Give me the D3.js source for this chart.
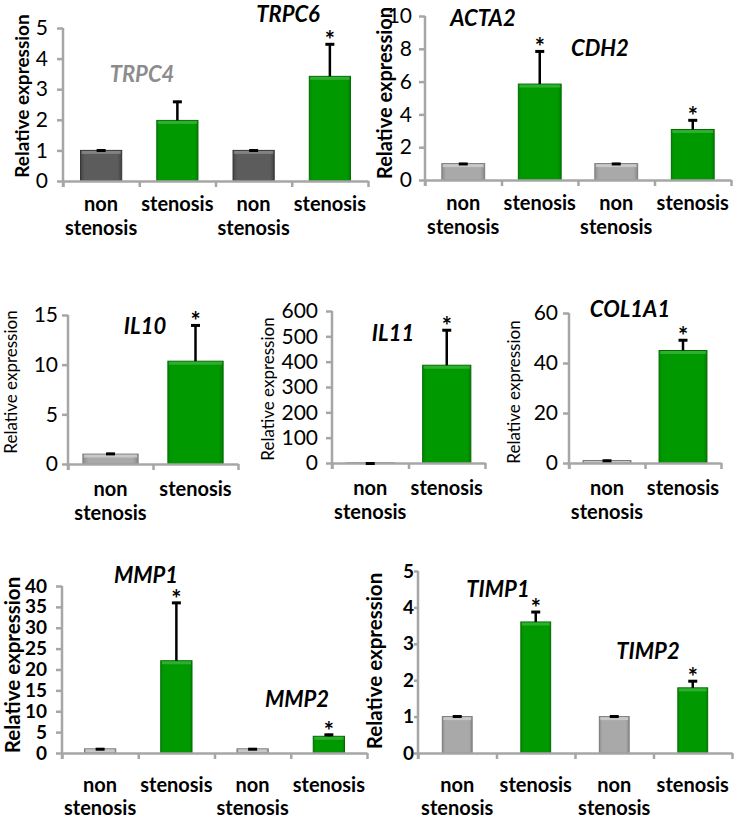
<!DOCTYPE html>
<html><head><meta charset="utf-8">
<script src="https://cdn.jsdelivr.net/npm/d3@7"></script>
<style>body{margin:0;background:#fff} text{font-family:Lato,"Noto Sans",sans-serif}</style>
</head><body><svg id="c" width="735" height="818"></svg>
<script>
// ---- data ----
const cats4 = ["non stenosis","stenosis","non stenosis","stenosis"];
const cats2 = ["non stenosis","stenosis"];

const trpcValues = [1, 1.98, 1, 3.42];
const trpcErrors = [0.03, 0.64, 0.03, 1.08];
const trpcSig = [false, false, false, true];
const trpcTicks = [0,1,2,3,4,5];
const trpcGenes = ["TRPC4","TRPC6"];

const actaValues = [1, 5.85, 1, 3.08];
const actaErrors = [0.04, 2.05, 0.04, 0.62];
const actaSig = [false, true, false, true];
const actaTicks = [0,2,4,6,8,10];
const actaGenes = ["ACTA2","CDH2"];

const il10Values = [1, 10.35];
const il10Errors = [0.12, 3.7];
const il10Sig = [false, true];
const il10Ticks = [0,5,10,15];

const il11Values = [1, 386];
const il11Errors = [1, 142];
const il11Sig = [false, true];
const il11Ticks = [0,100,200,300,400,500,600];

const colValues = [1, 45];
const colErrors = [0.3, 4.5];
const colSig = [false, true];
const colTicks = [0,20,40,60];

const mmpValues = [1, 22.1, 1, 4.0];
const mmpErrors = [0.15, 14.1, 0.15, 0.6];
const mmpSig = [false, true, false, true];
const mmpTicks = [0,5,10,15,20,25,30,35,40];
const mmpGenes = ["MMP1","MMP2"];

const timpValues = [1, 3.6, 1, 1.79];
const timpErrors = [0.03, 0.3, 0.03, 0.21];
const timpSig = [false, true, false, true];
const timpTicks = [0,1,2,3,4,5];
const timpGenes = ["TIMP1","TIMP2"];

const yLabel = "Relative expression";

// ---- layout ----
const panels = [
 {cats:cats4, values:trpcValues, errors:trpcErrors, sig:trpcSig, ticks:trpcTicks,
  x0:63, x1:368, yZero:181, yTop:28, pad:0.46, gray:"dark", bold:false, tickPad:9, tickLen:6,
  tickFs:21, yl:{x:21, y:96, fs:19, w:"bold"}, xlab:[22,46],
  titles:[{t:trpcGenes[0], x:142, y:73, c:"#8c8c8c"},{t:trpcGenes[1], x:288, y:13, c:"#000"}]},
 {cats:cats4, values:actaValues, errors:actaErrors, sig:actaSig, ticks:actaTicks,
  x0:425, x1:731, yZero:180, yTop:16, pad:0.44, gray:"light", bold:false, tickPad:7, tickLen:6,
  tickFs:21, yl:{x:384, y:93, fs:20, w:"bold"}, xlab:[22,46],
  titles:[{t:actaGenes[0], x:483, y:17, c:"#000"},{t:actaGenes[1], x:600, y:47, c:"#000"}]},
 {cats:cats2, values:il10Values, errors:il10Errors, sig:il10Sig, ticks:il10Ticks,
  x0:68, x1:238, yZero:464, yTop:315, pad:0.35, gray:"light", bold:false, tickPad:4, tickLen:6,
  tickFs:21, yl:{x:10, y:382, fs:17, w:"normal"}, xlab:[24,48],
  titles:[{t:"IL10", x:145, y:325, c:"#000"}]},
 {cats:cats2, values:il11Values, errors:il11Errors, sig:il11Sig, ticks:il11Ticks,
  x0:332, x1:485, yZero:463, yTop:311, pad:0.37, gray:"light", bold:false, tickPad:8, tickLen:6,
  tickFs:21, yl:{x:267, y:389, fs:17, w:"normal"}, xlab:[24,48],
  titles:[{t:"IL11", x:393, y:332, c:"#000"}]},
 {cats:cats2, values:colValues, errors:colErrors, sig:colSig, ticks:colTicks,
  x0:569, x1:721, yZero:463, yTop:313, pad:0.37, gray:"light", bold:false, tickPad:5, tickLen:6,
  tickFs:21, yl:{x:513, y:392, fs:17, w:"normal"}, xlab:[24,48],
  titles:[{t:"COL1A1", x:630, y:308, c:"#000"}]},
 {cats:cats4, values:mmpValues, errors:mmpErrors, sig:mmpSig, ticks:mmpTicks,
  x0:62, x1:367, yZero:753, yTop:586, pad:0.59, gray:"light", bold:true, tickPad:9, tickLen:6,
  tickFs:19, yl:{x:12, y:665, fs:20.5, w:"bold"}, xlab:[31,54],
  titles:[{t:mmpGenes[0], x:146, y:574, c:"#000"},{t:mmpGenes[1], x:297, y:698, c:"#000"}]},
 {cats:cats4, values:timpValues, errors:timpErrors, sig:timpSig, ticks:timpTicks,
  x0:418, x1:732, yZero:753, yTop:571, pad:0.62, gray:"light", bold:true, tickPad:0, tickLen:4,
  tickFs:19, yl:{x:374, y:661, fs:20.5, w:"bold"}, xlab:[31,54],
  titles:[{t:timpGenes[0], x:498, y:588, c:"#000"},{t:timpGenes[1], x:648, y:650, c:"#000"}]}
];

const svg = d3.select("#c");
const defs = svg.append("defs");
function grad(id, stops){
  const g = defs.append("linearGradient").attr("id",id).attr("x1",0).attr("x2",1).attr("y1",0).attr("y2",0);
  stops.forEach(s=>g.append("stop").attr("offset",s[0]).attr("stop-color",s[1]));
}
grad("gGreen",[[0,"#008a00"],[0.08,"#009a00"],[0.92,"#009a00"],[1,"#008000"]]);
grad("gLight",[[0,"#8e8e8e"],[0.1,"#a9a9a9"],[0.9,"#a9a9a9"],[1,"#8a8a8a"]]);
grad("gDark",[[0,"#464646"],[0.1,"#5c5c5c"],[0.9,"#5c5c5c"],[1,"#424242"]]);
const fills = {green:["url(#gGreen)","#006a00","#3cb33c"], light:["url(#gLight)","#7a7a7a","#d0d0d0"], dark:["url(#gDark)","#333","#8c8c8c"]};
const axisCol = "#a6a6a6";

panels.forEach(p=>{
  const g = svg.append("g");
  const n = p.cats.length;
  const y = d3.scaleLinear().domain([0, p.ticks[p.ticks.length-1]]).range([p.yZero, p.yTop]);
  const x = d3.scaleBand().domain(d3.range(n)).range([p.x0, p.x1]).paddingInner(p.pad).paddingOuter(p.pad/2);
  const xb = d3.scaleLinear().domain([0,n]).range([p.x0,p.x1]);

  // y axis
  const ya = g.append("g").attr("transform",`translate(${p.x0},0)`)
    .call(d3.axisLeft(y).tickValues(p.ticks).tickFormat(d3.format("d")).tickSize(p.tickLen).tickSizeOuter(0).tickPadding(p.tickPad));
  ya.select(".domain").attr("stroke",axisCol).attr("stroke-width",2.5)
    .attr("d",`M0,${p.yTop}V${p.yZero+6}`);
  ya.selectAll(".tick line").attr("stroke",axisCol).attr("stroke-width",2.5);
  ya.selectAll(".tick text").attr("font-size",p.tickFs).attr("fill","#000")
    .attr("font-weight",p.bold?"bold":"normal").attr("font-family","Lato, sans-serif");

  // bars
  const kinds = p.values.map((v,i)=> i%2===1 ? "green" : p.gray);
  g.selectAll("rect.bar").data(p.values).join("rect").attr("class","bar")
    .attr("x",(d,i)=>x(i)).attr("width",x.bandwidth())
    .attr("y",d=>y(d)).attr("height",d=>p.yZero-y(d))
    .attr("fill",(d,i)=>fills[kinds[i]][0]).attr("stroke",(d,i)=>fills[kinds[i]][1]).attr("stroke-width",1);
  g.selectAll("rect.hl").data(p.values).join("rect").attr("class","hl")
    .attr("x",(d,i)=>x(i)+1).attr("width",x.bandwidth()-2)
    .attr("y",d=>y(d)+0.5).attr("height",d=>Math.min(3, Math.max(0,p.yZero-y(d)-1)))
    .attr("fill",(d,i)=>fills[kinds[i]][2]).attr("opacity",0.8);

  // x axis
  const xa = g.append("g").attr("transform",`translate(0,${p.yZero})`)
    .call(d3.axisBottom(xb).tickValues(d3.range(n+1)).tickFormat("").tickSize(6).tickSizeOuter(0));
  xa.select(".domain").attr("stroke",axisCol).attr("stroke-width",2.5);
  xa.selectAll(".tick line").attr("stroke",axisCol).attr("stroke-width",2.5);

  // error bars
  const cx = i => x(i) + x.bandwidth()/2;
  g.selectAll("line.err").data(p.values).join("line").attr("class","err")
    .attr("x1",(d,i)=>cx(i)).attr("x2",(d,i)=>cx(i))
    .attr("y1",d=>y(d)).attr("y2",(d,i)=>y(d+p.errors[i]))
    .attr("stroke","#000").attr("stroke-width",2.5);
  g.selectAll("line.cap").data(p.values).join("line").attr("class","cap")
    .attr("x1",(d,i)=>cx(i)-4.5).attr("x2",(d,i)=>cx(i)+4.5)
    .attr("y1",(d,i)=>y(d+p.errors[i])+1).attr("y2",(d,i)=>y(d+p.errors[i])+1)
    .attr("stroke","#000").attr("stroke-width",3);
  // stars
  g.selectAll("text.star").data(p.values.map((d,i)=>({d,i})).filter(o=>p.sig[o.i])).join("text").attr("class","star")
    .attr("x",o=>cx(o.i)).attr("y",o=>y(o.d+p.errors[o.i])+6)
    .attr("text-anchor","middle").attr("font-size",24).attr("font-weight","bold").text("*");

  // x labels
  p.cats.forEach((c,i)=>{
    const words = c.split(" ");
    const t = g.append("text").attr("text-anchor","middle").attr("font-size",20).attr("font-weight","bold")
      .attr("dominant-baseline","central");
    words.forEach((w,k)=>t.append("tspan").attr("x",cx(i)).attr("y",p.yZero+p.xlab[k]).text(w));
  });

  // y label
  g.append("text").attr("transform",`translate(${p.yl.x},${p.yl.y}) rotate(-90)`)
    .attr("text-anchor","middle").attr("dominant-baseline","central")
    .attr("font-size",p.yl.fs).attr("font-weight",p.yl.w).text(yLabel);

  // gene titles
  p.titles.forEach(tt=>{
    g.append("text").attr("x",tt.x).attr("y",tt.y).attr("text-anchor","middle").attr("dominant-baseline","central")
      .attr("font-size",22).attr("font-weight","bold").attr("font-style","italic").attr("fill",tt.c).text(tt.t);
  });
});
</script></body></html>
